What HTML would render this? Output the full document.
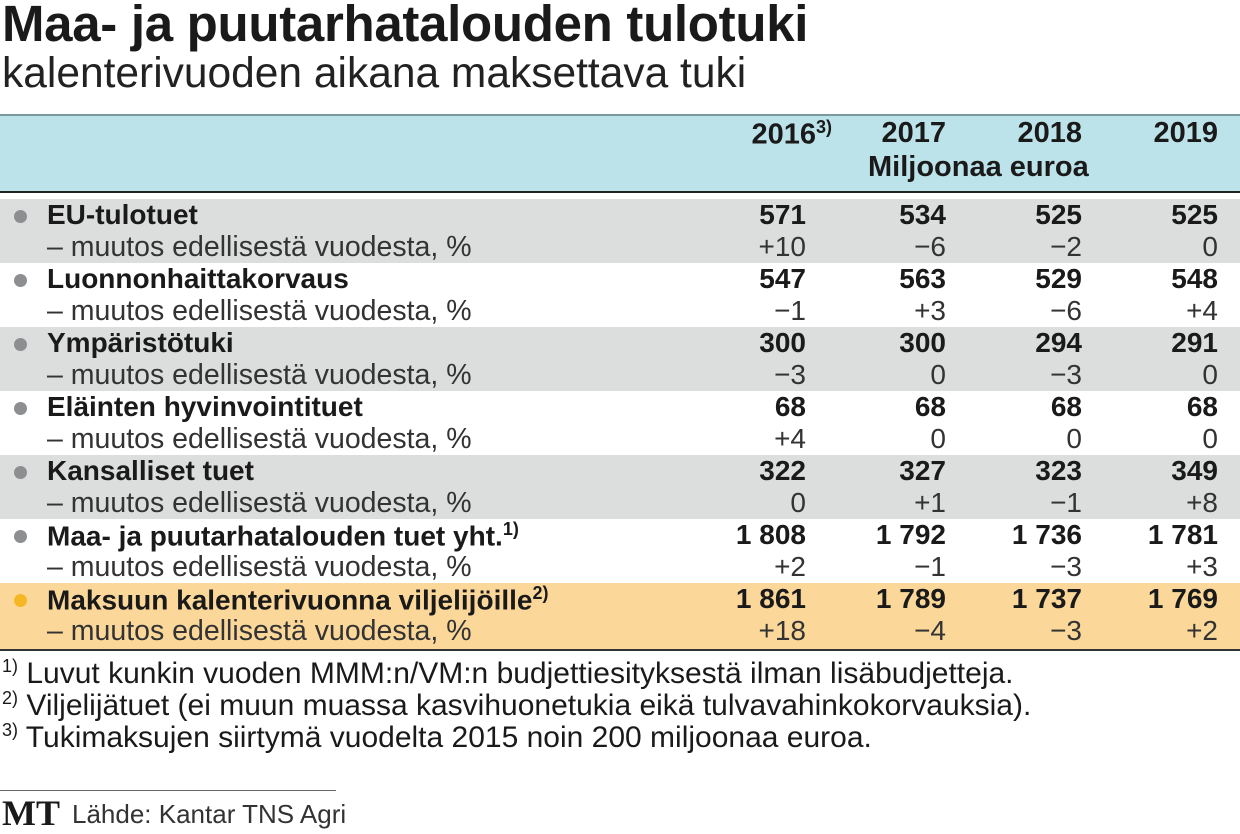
<!DOCTYPE html>
<html><head><meta charset="utf-8"><style>
body{margin:0;width:1240px;height:832px;background:#fff;position:relative;overflow:hidden;font-family:"Liberation Sans",sans-serif;color:#1a1a1a}
div{position:absolute;white-space:nowrap}
.t{left:2px;top:-6px;font-size:51px;font-weight:bold;letter-spacing:-0.3px}
.s{left:2px;top:50px;font-size:42.5px;color:#222}
.hb{left:0;top:114px;width:1240px;height:75px;background:#bde3ea;border-top:2px solid #7a9aa0;border-bottom:2px solid #222}
.row{left:0;width:1240px;height:64px}
.g{background:#dcdddd}.o{background:#fbd89a}
.dot{width:13px;height:13px;border-radius:50%;background:#8d8e90;left:14px}
.lb{left:47px;font-size:28px;font-weight:bold}
.ls{left:47px;font-size:28.5px;color:#333}
.n{font-size:28px;font-weight:bold;text-align:right;width:120px}
.p{font-size:28px;text-align:right;width:120px;color:#333}
.h{font-size:29px;font-weight:bold;text-align:right;width:140px}
.f{left:2px;font-size:30px}
sup{font-size:18px}
</style></head><body>
<div class="t">Maa- ja puutarhatalouden tulotuki</div>
<div class="s">kalenterivuoden aikana maksettava tuki</div>
<div class="hb"></div>
<div class="h" style="left:692px;top:117px">2016<sup>3)</sup></div>
<div class="h" style="left:806px;top:117px">2017</div>
<div class="h" style="left:942px;top:117px">2018</div>
<div class="h" style="left:1078px;top:117px">2019</div>
<div style="left:868px;top:151px;font-size:29px;font-weight:bold">Miljoonaa euroa</div>
<div id="rows"></div>
<script>
var d=[["EU-tulotuet",["571","534","525","525"],["+10","−6","−2","0"],"g"],
["Luonnonhaittakorvaus",["547","563","529","548"],["−1","+3","−6","+4"],""],
["Ympäristötuki",["300","300","294","291"],["−3","0","−3","0"],"g"],
["Eläinten hyvinvointituet",["68","68","68","68"],["+4","0","0","0"],""],
["Kansalliset tuet",["322","327","323","349"],["0","+1","−1","+8"],"g"],
["Maa- ja puutarhatalouden tuet yht.<sup>1)</sup>",["1 808","1 792","1 736","1 781"],["+2","−1","−3","+3"],""],
["Maksuun kalenterivuonna viljelijöille<sup>2)</sup>",["1 861","1 789","1 737","1 769"],["+18","−4","−3","+2"],"o"]];
var R=[806,946,1082,1218],h="";
d.forEach(function(r,i){var y=199+i*64;
h+='<div class="row '+r[3]+'" style="top:'+y+'px;height:'+(i==6?66:64)+'px"></div>';
h+='<div class="dot" style="top:'+(y+11)+'px;'+(i==6?'background:#f5b824':'')+'"></div>';
h+='<div class="lb" style="top:'+(y+0)+'px">'+r[0]+'</div>';
h+='<div class="ls" style="top:'+(y+32)+'px">– muutos edellisestä vuodesta, %</div>';
for(var k=0;k<4;k++){h+='<div class="n" style="left:'+(R[k]-120)+'px;top:'+(y+0)+'px">'+r[1][k]+'</div>';
h+='<div class="p" style="left:'+(R[k]-120)+'px;top:'+(y+32)+'px">'+r[2][k]+'</div>';}
});
h+='<div style="left:0;top:649px;width:1240px;height:2px;background:#333"></div>';
document.getElementById("rows").innerHTML=h;
</script>
<div class="f" style="top:656px"><sup>1)</sup> Luvut kunkin vuoden MMM:n/VM:n budjettiesityksestä ilman lisäbudjetteja.</div>
<div class="f" style="top:688px"><sup>2)</sup> Viljelijätuet (ei muun muassa kasvihuonetukia eikä tulvavahinkokorvauksia).</div>
<div class="f" style="top:720px"><sup>3)</sup> Tukimaksujen siirtymä vuodelta 2015 noin 200 miljoonaa euroa.</div>
<div style="left:0;top:790px;width:336px;height:1px;background:#666"></div>
<div style="left:2px;top:792px;font-family:'Liberation Serif',serif;font-weight:bold;font-size:36px">MT</div>
<div style="left:72px;top:799px;font-size:26px;color:#333">Lähde: Kantar TNS Agri</div>
</body></html>
